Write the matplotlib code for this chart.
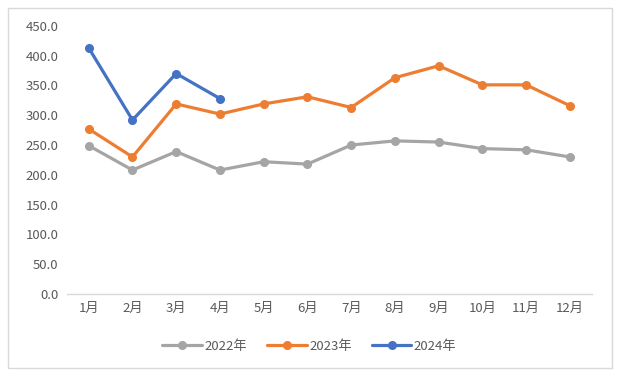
import matplotlib
matplotlib.use('Agg')
from matplotlib import pyplot as plt
from matplotlib.patches import Rectangle

plt.rcParams['font.family'] = ['Noto Sans CJK SC', 'DejaVu Sans']

months = ['1月', '2月', '3月', '4月', '5月', '6月', '7月', '8月', '9月', '10月', '11月', '12月']
y2022 = [249, 208, 239, 208, 222, 218, 250, 257, 255, 244, 242, 230]
y2023 = [277, 230, 319, 302, 319, 331, 313, 363, 383, 351, 351, 316]
y2024 = [413, 292, 370, 328]

series = [
    ('2022年', y2022, '#A5A5A5'),
    ('2023年', y2023, '#ED7D31'),
    ('2024年', y2024, '#4472C4'),
]

fig = plt.figure(figsize=(6.19, 3.75), dpi=100)
ax = fig.add_axes([0.108, 0.216, 0.848, 0.715])

x = list(range(len(months)))
for name, vals, color in series:
    ax.plot(x[:len(vals)], vals, color=color, lw=2.3, marker='o', ms=5.5,
            label=name, solid_capstyle='round', solid_joinstyle='round')

ax.set_xlim(-0.5, len(months) - 0.5)
ax.set_ylim(0, 450)
ax.set_yticks(range(0, 451, 50))
ax.set_yticklabels([f'{v:.1f}' for v in range(0, 451, 50)])
ax.set_xticks(x)
ax.set_xticklabels(months)

for side in ['top', 'right', 'left']:
    ax.spines[side].set_visible(False)
ax.spines['bottom'].set_color('#D9D9D9')
ax.spines['bottom'].set_linewidth(1)
ax.tick_params(axis='both', length=0, labelsize=9.5, colors='#595959', pad=6)

leg = fig.legend(loc='center', bbox_to_anchor=(0.5, 0.077), ncol=3, frameon=False,
                 fontsize=9.5, handlelength=3, columnspacing=1.5, handletextpad=0.2)
for t in leg.get_texts():
    t.set_color('#595959')

# outer chart border
fig.patches.append(Rectangle((8 / 619, 7 / 375), 604 / 619, 360 / 375,
                             transform=fig.transFigure, fill=False,
                             edgecolor='#D9D9D9', lw=1))

fig.savefig('out.png', dpi=100)
